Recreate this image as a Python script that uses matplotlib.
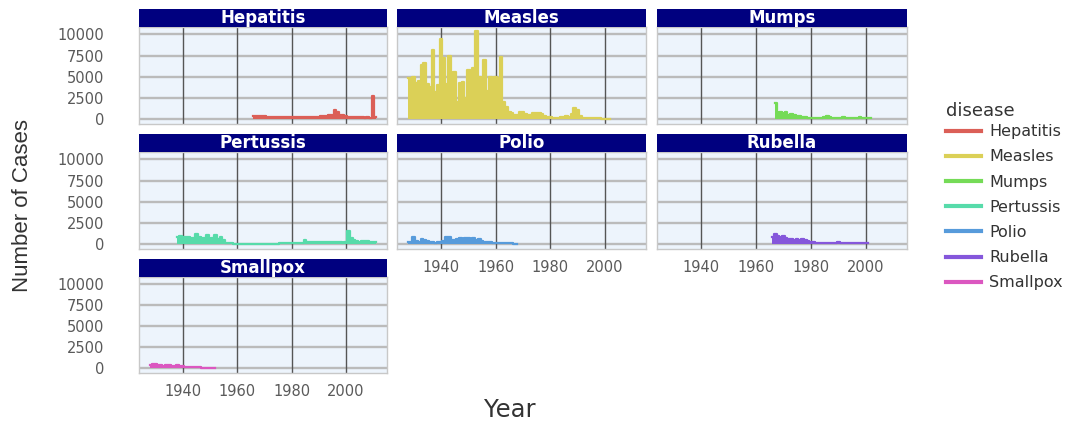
import matplotlib
matplotlib.use("Agg")
import matplotlib.pyplot as plt
from matplotlib.lines import Line2D
import seaborn as sns

plt.rcParams["font.family"] = ["DejaVu Sans"]

# ---- data: yearly case counts per disease ----
diseases = ["Hepatitis", "Measles", "Mumps", "Pertussis", "Polio", "Rubella", "Smallpox"]

hepatitis_years = list(range(1966, 2012))
hepatitis_cases = [350, 380, 360, 340, 330, 300, 280, 290, 270, 260, 250, 260, 270, 250,
                   240, 260, 250, 270, 260, 280, 300, 280, 290, 300, 320, 330, 350, 380,
                   450, 550, 1100, 800, 550, 450, 380, 300, 250, 260, 220, 250, 230, 200,
                   210, 200, 2750, 250]

measles_years = list(range(1928, 2003))
measles_cases = [4900, 2800, 5000, 4300, 4500, 6400, 6600, 4200, 3800, 8100,
                 3200, 4000, 9500, 7200, 4200, 7400, 2500, 5600, 2000, 4300,
                 4400, 2500, 5800, 4000, 6000, 10400, 5000, 4000, 7000, 3300,
                 5000, 3000, 5000, 4800, 7300, 2000, 1400, 900, 700, 450,
                 500, 850, 860, 600, 450, 500, 700, 750, 720, 600,
                 350, 300, 250, 200, 150, 200, 250, 300, 350, 300,
                 600, 1300, 1100, 400, 200, 150, 180, 150, 120, 100,
                 90, 80, 70, 60, 50]

mumps_years = list(range(1967, 2003))
mumps_cases = [1900, 700, 900, 750, 800, 500, 600, 450, 400, 350, 300, 250, 200, 200,
               150, 150, 150, 200, 250, 350, 300, 200, 200, 150, 200, 250, 200, 150,
               150, 200, 150, 250, 150, 150, 150, 100]

pertussis_years = list(range(1938, 2012))
pertussis_cases = [900, 1000, 900, 800, 850, 700, 750, 1250, 900, 700,
                   750, 1050, 650, 700, 1050, 600, 900, 500, 150, 100,
                   90, 80, 70, 60, 60, 50, 50, 50, 60, 60,
                   50, 50, 60, 70, 60, 60, 70, 80, 90, 100,
                   110, 120, 130, 150, 160, 180, 200, 550, 300, 250,
                   220, 230, 250, 240, 220, 230, 250, 260, 240, 230,
                   220, 200, 210, 1600, 700, 500, 350, 300, 350, 400,
                   350, 300, 300, 280]

polio_years = list(range(1928, 1969))
polio_cases = [250, 300, 900, 400, 300, 650, 500, 350, 300, 250,
               200, 300, 250, 350, 850, 800, 450, 550, 650, 750,
               600, 700, 750, 650, 700, 550, 600, 400, 300, 250,
               250, 200, 200, 150, 150, 120, 100, 100, 90, 80, 80]

rubella_years = list(range(1966, 2002))
rubella_cases = [800, 1250, 1000, 900, 950, 700, 650, 600, 500, 600,
                 550, 600, 450, 350, 300, 250, 200, 200, 180, 200,
                 180, 200, 180, 200, 250, 200, 150, 150, 150, 180,
                 150, 150, 150, 130, 120, 100]

smallpox_years = list(range(1928, 1953))
smallpox_cases = [400, 550, 500, 450, 350, 300, 400, 350, 300, 250,
                  350, 300, 250, 200, 150, 200, 150, 120, 100, 80,
                  60, 50, 40, 30, 20]

series = {
    "Hepatitis": (hepatitis_years, hepatitis_cases),
    "Measles": (measles_years, measles_cases),
    "Mumps": (mumps_years, mumps_cases),
    "Pertussis": (pertussis_years, pertussis_cases),
    "Polio": (polio_years, polio_cases),
    "Rubella": (rubella_years, rubella_cases),
    "Smallpox": (smallpox_years, smallpox_cases),
}

year_ticks = [1940, 1960, 1980, 2000]
case_ticks = [0, 2500, 5000, 7500, 10000]

# ---- styling ----
palette = sns.color_palette("hls", len(diseases))
colors = dict(zip(diseases, palette))

W, H = 1089, 421
fig = plt.figure(figsize=(W / 100, H / 100), dpi=100)
fig.patch.set_facecolor("white")


def rect(x0, y0, x1, y1):
    return [x0 / W, 1 - y1 / H, (x1 - x0) / W, (y1 - y0) / H]


col_x = [(139, 387), (397, 646), (657, 907)]
row_panel = [(27, 124), (152, 249), (277, 373)]
row_strip = [(9, 27), (134, 152), (259, 277)]

panel_bg = "#EDF4FC"
strip_bg = "#00007F"
text_gray = "#5A5A5A"

for i, name in enumerate(diseases):
    r, c = divmod(i, 3)
    x0, x1 = col_x[c]
    y0, y1 = row_panel[r]
    ax = fig.add_axes(rect(x0, y0, x1, y1))
    ax.set_facecolor(panel_bg)

    yrs, vals = series[name]
    ax.fill_between(yrs, vals, 0, step="mid", color=colors[name], lw=0, zorder=3)
    ax.step(yrs, vals, where="mid", color=colors[name], lw=1.6, zorder=3)

    ax.set_xlim(1923.85, 2015.15)
    ax.set_ylim(-560, 10860)
    ax.set_xticks(year_ticks)
    ax.set_yticks(case_ticks)
    ax.grid(False)
    for yv in case_ticks:
        ax.axhline(yv, color="#BBBBBB", lw=1.7, zorder=1)
    for xv in year_ticks:
        ax.axvline(xv, color="#555555", lw=1.0, zorder=2)
    for sp in ax.spines.values():
        sp.set_color("#C8C8C8")
        sp.set_linewidth(1.0)
    ax.tick_params(length=0, labelsize=10.5, labelcolor=text_gray, pad=4)

    show_x = (r == 2) or (r == 1 and c > 0)
    if show_x:
        ax.set_xticklabels([str(t) for t in year_ticks])
        ax.tick_params(axis="x", pad=8)
    else:
        ax.set_xticklabels([])
    if c == 0:
        ax.set_yticklabels([str(t) for t in case_ticks])
        ax.tick_params(axis="y", pad=25)
        for lbl in ax.get_yticklabels():
            lbl.set_horizontalalignment("right")
    else:
        ax.set_yticklabels([])

    sy0, sy1 = row_strip[r]
    sax = fig.add_axes(rect(x0, sy0, x1, sy1))
    sax.set_facecolor(strip_bg)
    sax.set_xticks([])
    sax.set_yticks([])
    for sp in sax.spines.values():
        sp.set_visible(False)
    sax.text(0.5, 0.5, name, color="white", fontsize=12, fontweight="bold",
             ha="center", va="center", transform=sax.transAxes)

# axis titles
fig.text(23 / W, 1 - 205 / H, "Number of Cases", rotation=90,
         family=["Liberation Sans", "DejaVu Sans"],
         fontsize=16, color="#333333", ha="center", va="center")
fig.text(510 / W, 1 - 410 / H, "Year", fontsize=17.5, color="#333333",
         ha="center", va="center")

# legend
handles = [Line2D([0], [0], color=colors[d], lw=3) for d in diseases]
leg = fig.legend(handles, diseases, title="disease", loc="upper left",
                 bbox_to_anchor=(946 / W, 1 - 102 / H), frameon=False,
                 fontsize=11.5, title_fontsize=13, handlelength=2.2,
                 handletextpad=0.5, labelspacing=0.64, borderpad=0,
                 borderaxespad=0, alignment="left")
leg._legend_box.sep = 3
for t in leg.get_texts():
    t.set_color("#333333")
leg.get_title().set_color("#333333")

fig.savefig("out.png", dpi=100)
